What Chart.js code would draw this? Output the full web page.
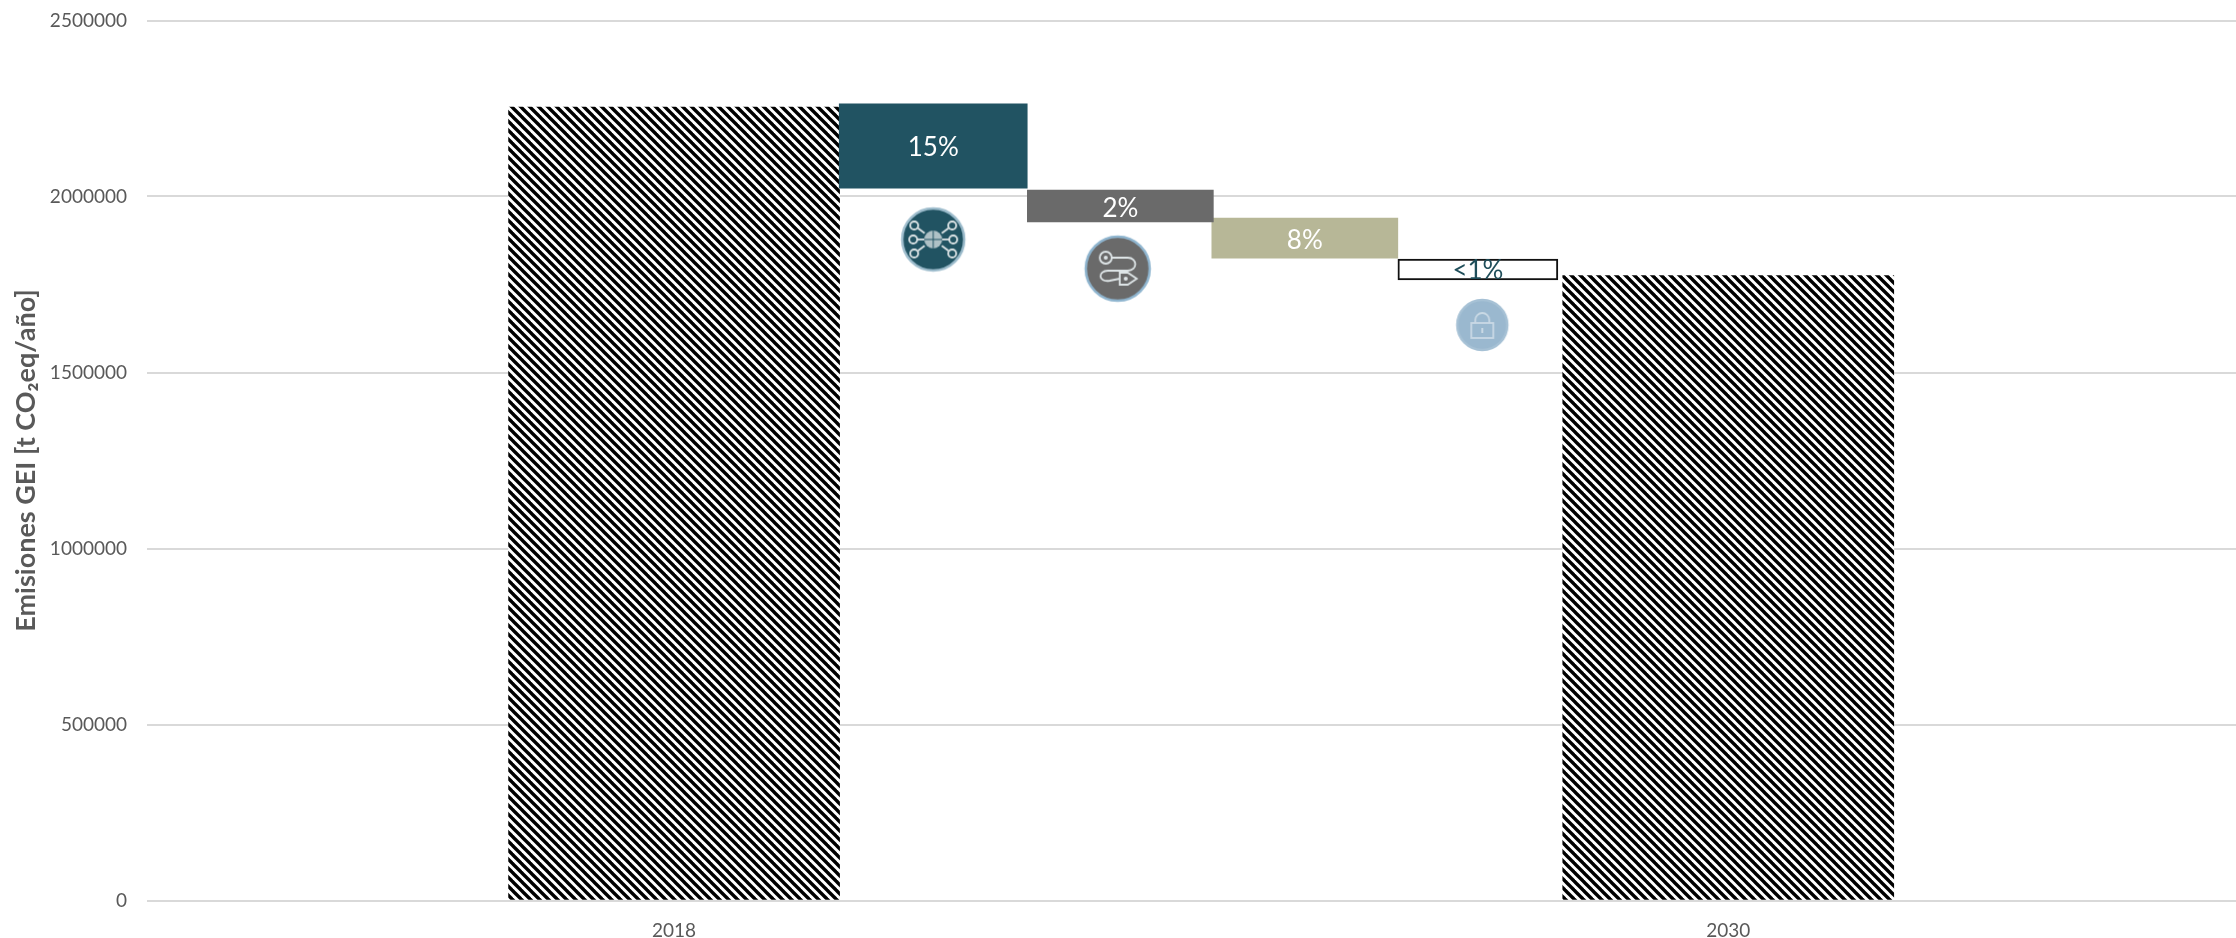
<!DOCTYPE html>
<html lang="es">
<head>
<meta charset="utf-8">
<title>Emisiones GEI</title>
<style>
html,body{margin:0;padding:0;background:#fff;overflow:hidden}
#wrap{width:2236px;height:938px;position:relative}
canvas{display:block}
</style>
<script src="https://cdn.jsdelivr.net/npm/chart.js@4/dist/chart.umd.min.js"></script>
</head>
<body>
<div id="wrap"><canvas id="c" width="2236" height="938"></canvas></div>
<script>
// ---- data ----
const yearTicks = [2018, 2030];
const totalYears = [2018, 2030];
const totalValues = [2254000, 1775000];
const stepLabels = ['15%', '2%', '8%', '<1%'];
const stepYears = [2020.95, 2023.08, 2025.18, 2027.15];
const stepTops = [2263000, 2018500, 1939000, 1822000];
const stepBottoms = [2024000, 1927500, 1825000, 1763000];
const iconYears = [2020.95, 2023.05, 2027.2];
const iconValues = [1878000, 1795000, 1635000];
const yTicks = [0, 500000, 1000000, 1500000, 2000000, 2500000];
const yTitle = 'Emisiones GEI [t CO\u2082eq/año]';

// ---- styles ----
const stepColors = ['#215362', '#6a6a6a', '#b7b797', '#ffffff'];
const stepBorders = ['#215362', '#6a6a6a', '#b7b797', '#111111'];
const stepWidths = [188, 186, 186, 160];
const labelColors = ['#ffffff', '#ffffff', '#ffffff', '#1f4e5a'];
const FONT = 'Lato, "Open Sans", sans-serif';

function stripes() {
  const s = 9, t = document.createElement('canvas');
  t.width = t.height = s;
  const g = t.getContext('2d');
  g.fillStyle = '#fff'; g.fillRect(0, 0, s, s);
  g.strokeStyle = '#000'; g.lineWidth = 3.4; g.lineCap = 'square';
  [[-s, 0], [0, 0], [s, 0]].forEach(([dx]) => {
    g.beginPath(); g.moveTo(dx, 0); g.lineTo(dx + s, s); g.stroke();
  });
  return document.getElementById('c').getContext('2d').createPattern(t, 'repeat');
}

function iconCanvas(r, fill, ring, draw) {
  const c = document.createElement('canvas');
  c.width = c.height = 2 * r + 4;
  const g = c.getContext('2d');
  g.translate(r + 2, r + 2);
  g.beginPath(); g.arc(0, 0, r - 1, 0, 2 * Math.PI);
  g.fillStyle = fill; g.fill();
  g.lineWidth = 2.5; g.strokeStyle = ring; g.stroke();
  g.strokeStyle = '#dfe6e8'; g.fillStyle = '#dfe6e8'; g.lineWidth = 1.8;
  draw(g);
  return c;
}
const globeIcon = iconCanvas(32, '#215362', '#9dbccc', g => {
  [[-19,-14],[19,-14],[-20,0],[20,0],[-19,14],[19,14]].forEach(([x, y]) => {
    g.beginPath(); g.moveTo(x * 0.45, y * 0.45); g.lineTo(x * 0.8, y * 0.8); g.stroke();
    g.beginPath(); g.arc(x, y, 4, 0, 2 * Math.PI); g.stroke();
  });
  g.beginPath(); g.arc(0, 0, 9, 0, 2 * Math.PI); g.globalAlpha = .75; g.fill(); g.globalAlpha = 1;
  g.strokeStyle = '#215362'; g.lineWidth = 1;
  g.beginPath(); g.moveTo(-9, 0); g.lineTo(9, 0); g.moveTo(0, -9); g.lineTo(0, 9); g.stroke();
});
const hoseIcon = iconCanvas(33, '#6a6a6a', '#8fb5cf', g => {
  g.beginPath(); g.arc(-12, -11, 6, 0, 2 * Math.PI); g.stroke();
  g.beginPath(); g.moveTo(-6, -11); g.lineTo(10, -11);
  g.bezierCurveTo(20, -11, 20, 2, 10, 2); g.lineTo(-10, 2);
  g.bezierCurveTo(-20, 2, -20, 14, -8, 12); g.lineTo(2, 10); g.stroke();
  g.beginPath(); g.moveTo(2, 4); g.lineTo(10, 4); g.lineTo(19, 10); g.lineTo(10, 16); g.lineTo(2, 16); g.closePath(); g.stroke();
  g.beginPath(); g.arc(-12, -11, 2, 0, 2 * Math.PI); g.fill();
  g.beginPath(); g.arc(8, 10, 2, 0, 2 * Math.PI); g.fill();
});
const lockIcon = iconCanvas(26, '#9ab8cf', '#a6c1d5', g => {
  g.strokeStyle = '#c9d9e5'; g.fillStyle = '#c9d9e5';
  g.strokeRect(-11, -2, 22, 15);
  g.beginPath(); g.arc(0, -5, 7, Math.PI, 0); g.lineTo(7, -2); g.moveTo(-7, -5); g.lineTo(-7, -2); g.stroke();
  g.fillRect(-1, 3, 2, 5);
});

const pattern = stripes();

const stepDatasets = stepLabels.map((lab, i) => ({
  label: lab,
  data: [{ x: stepYears[i], y: [stepBottoms[i], stepTops[i]] }],
  backgroundColor: stepColors[i],
  borderColor: stepBorders[i],
  borderWidth: i === 3 ? 2 : 0,
  borderSkipped: false,
  barThickness: stepWidths[i],
  grouped: false,
  order: 2
}));

const barLabels = {
  id: 'barLabels',
  afterDatasetsDraw(chart) {
    const g = chart.ctx;
    g.save();
    g.font = '400 26px ' + FONT;
    g.textAlign = 'center';
    g.textBaseline = 'middle';
    stepLabels.forEach((lab, i) => {
      const el = chart.getDatasetMeta(i + 1).data[0];
      const cy = (el.y + el.base) / 2 + (i === 1 || i === 2 ? 3 : (i === 0 ? 2 : 1));
      g.fillStyle = labelColors[i];
      g.fillText(lab, el.x, cy);
    });
    g.restore();
  }
};

new Chart(document.getElementById('c'), {
  type: 'bar',
  plugins: [barLabels],
  data: {
    datasets: [
      {
        label: 'Total',
        data: totalYears.map((x, i) => ({ x, y: totalValues[i] })),
        backgroundColor: pattern,
        borderWidth: 0,
        barThickness: 331,
        grouped: false,
        order: 3
      },
      ...stepDatasets,
      {
        type: 'scatter',
        label: 'Iconos',
        data: iconYears.map((x, i) => ({ x, y: iconValues[i] })),
        pointStyle: [globeIcon, hoseIcon, lockIcon],
        pointRadius: 30,
        order: 1
      }
    ]
  },
  options: {
    responsive: false,
    animation: false,
    events: [],
    layout: { autoPadding: false, padding: { top: 20.5, right: 0, bottom: 0, left: 0 } },
    plugins: { legend: { display: false }, tooltip: { enabled: false }, title: { display: false } },
    scales: {
      x: {
        type: 'linear',
        min: 2012,
        max: 2035.78,
        offset: false,
        grid: { display: false, drawTicks: false },
        border: { display: false },
        afterBuildTicks(s) { s.ticks = yearTicks.map(value => ({ value })); },
        afterFit(s) { s.height = 37.5; s.paddingRight = 0; s.paddingLeft = 0; },
        ticks: {
          autoSkip: false, maxRotation: 0, padding: 19,
          color: '#595959',
          font: { family: FONT, size: 19 },
          callback: v => String(v)
        }
      },
      y: {
        min: 0,
        max: 2500000,
        grid: { color: '#d9d9d9', lineWidth: 2, drawTicks: false },
        border: { display: false },
        afterBuildTicks(s) { s.ticks = yTicks.map(value => ({ value })); },
        afterFit(s) { s.width = 147; s.paddingTop = 0; s.paddingBottom = 0; },
        ticks: {
          padding: 20,
          color: '#595959',
          font: { family: FONT, size: 19 },
          callback: v => String(v)
        },
        title: {
          display: true,
          text: yTitle,
          color: '#595959',
          font: { family: FONT, size: 27, weight: 'bold' },
          padding: { top: 10, bottom: 0 }
        }
      }
    }
  }
});
</script>
</body>
</html>
